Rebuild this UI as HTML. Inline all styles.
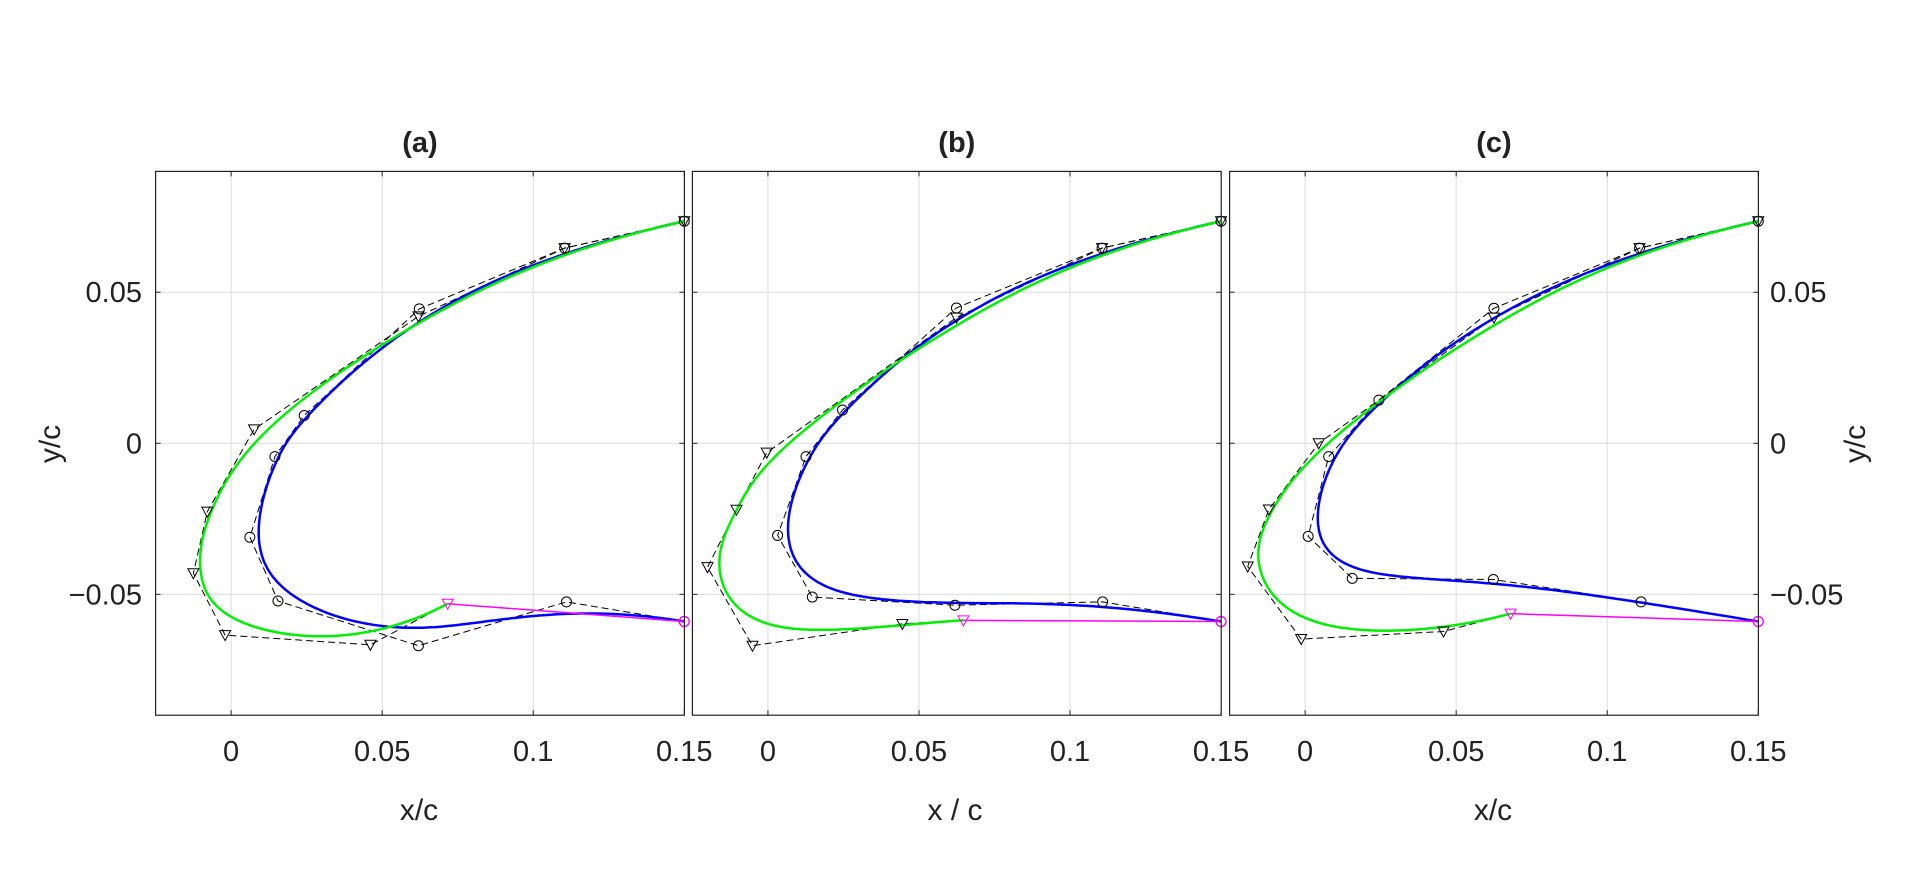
<!DOCTYPE html>
<html><head><meta charset="utf-8"><style>
html,body{margin:0;padding:0;background:#fff;}
svg text{font-family:"Liberation Sans",sans-serif;fill:#222;}
</style></head><body>
<svg id="s" width="1920" height="879" xmlns="http://www.w3.org/2000/svg"></svg>
<script>
const S=document.getElementById('s');let out='';
const panels=[
 {L:155.6,title:'(a)',xl:'x/c',xc:419,
  C:[[0.15,0.0735],[0.1104,0.0646],[0.0623,0.0445],[0.0242,0.0092],[0.0145,-0.0044],[0.0062,-0.0311],[0.0155,-0.0522],[0.062,-0.067],[0.111,-0.0525],[0.15,-0.059]],
  T:[[0.15,0.0735],[0.1104,0.0646],[0.062,0.042],[0.0076,0.0046],[-0.0079,-0.0226],[-0.0125,-0.043],[-0.002,-0.0635],[0.0461,-0.0667],[0.0717,-0.0531]]},
 {L:692.4,title:'(b)',xl:'x / c',xc:955,
  C:[[0.15,0.0735],[0.1106,0.0646],[0.0624,0.0448],[0.0247,0.011],[0.0126,-0.0044],[0.0032,-0.0305],[0.0147,-0.0509],[0.0619,-0.0536],[0.1108,-0.0525],[0.15,-0.059]],
  T:[[0.15,0.0735],[0.1106,0.0646],[0.0624,0.0416],[-0.0004,-0.0031],[-0.0104,-0.022],[-0.02,-0.041],[-0.0051,-0.067],[0.0445,-0.0598],[0.0647,-0.0586]]},
 {L:1229.6,title:'(c)',xl:'x/c',xc:1493,
  C:[[0.15,0.0735],[0.1107,0.0646],[0.0625,0.0447],[0.0244,0.0143],[0.0078,-0.0044],[0.001,-0.0308],[0.0156,-0.0447],[0.0623,-0.0451],[0.1112,-0.0525],[0.15,-0.059]],
  T:[[0.15,0.0735],[0.1107,0.0646],[0.0625,0.0416],[0.0045,0],[-0.012,-0.0219],[-0.019,-0.0408],[-0.0013,-0.0648],[0.0458,-0.0623],[0.068,-0.0564]]}
];
const W=528.8,TOP=171.4,H=543.8,K=3021;
function bspline(P,deg,n){const m=P.length-1;const kn=[];for(let i=0;i<=m+deg+1;i++){kn.push(i<=deg?0:(i>=m+1?1:(i-deg)/(m-deg+1)));}
 const res=[];for(let s=0;s<=n;s++){let t=s/n;if(t>=1)t=1-1e-9;let k=deg;while(k<m&&kn[k+1]<=t)k++;
  const d=[];for(let j=0;j<=deg;j++)d.push(P[j+k-deg].slice());
  for(let r=1;r<=deg;r++)for(let j=deg;j>=r;j--){const i=j+k-deg;const a=(t-kn[i])/(kn[i+deg-r+1]-kn[i]);d[j]=[(1-a)*d[j-1][0]+a*d[j][0],(1-a)*d[j-1][1]+a*d[j][1]];}
  res.push(d[deg]);}return res;}
panels.forEach((p,pi)=>{
 const X=x=>p.L+(x+0.025)*K, Y=y=>TOP+(0.09-y)*K;
 out+=`<g><clipPath id="c${pi}"><rect x="${p.L-6}" y="${TOP}" width="${W+12}" height="${H}"/></clipPath>`;
 [0,0.05,0.1].forEach(v=>out+=`<line x1="${X(v)}" y1="${TOP}" x2="${X(v)}" y2="${TOP+H}" stroke="#dcdcdc" stroke-width="1"/>`);
 [0.05,0,-0.05].forEach(v=>out+=`<line x1="${p.L}" y1="${Y(v)}" x2="${p.L+W}" y2="${Y(v)}" stroke="#dcdcdc" stroke-width="1"/>`);
 [0,0.05,0.1,0.15].forEach(v=>{out+=`<line x1="${X(v)}" y1="${TOP+H}" x2="${X(v)}" y2="${TOP+H-5}" stroke="#222"/><line x1="${X(v)}" y1="${TOP}" x2="${X(v)}" y2="${TOP+5}" stroke="#222"/>`;
  out+=`<text x="${X(v)}" y="761" font-size="29" text-anchor="middle">${v}</text>`;});
 [0.05,0,-0.05].forEach(v=>out+=`<line x1="${p.L}" y1="${Y(v)}" x2="${p.L+5}" y2="${Y(v)}" stroke="#222"/><line x1="${p.L+W}" y1="${Y(v)}" x2="${p.L+W-5}" y2="${Y(v)}" stroke="#222"/>`);
 out+=`<g clip-path="url(#c${pi})">`;
 const pl=(P)=>P.map(q=>X(q[0]).toFixed(1)+','+Y(q[1]).toFixed(1)).join(' ');
 out+=`<polyline points="${pl(p.C)}" fill="none" stroke="#000" stroke-width="1" stroke-dasharray="7,4"/>`;
 out+=`<polyline points="${pl(p.T)}" fill="none" stroke="#000" stroke-width="1" stroke-dasharray="7,4"/>`;
 out+=`<polyline points="${pl(bspline(p.C,3,300))}" fill="none" stroke="#0000ff" stroke-width="2.5"/>`;
 out+=`<polyline points="${pl(bspline(p.T,3,300))}" fill="none" stroke="#00ee00" stroke-width="2.5"/>`;
 const e=p.T[p.T.length-1];
 out+=`<line x1="${X(e[0])}" y1="${Y(e[1])}" x2="${X(0.15)}" y2="${Y(-0.059)}" stroke="#ff00ff" stroke-width="1.5"/>`;
 p.C.forEach(q=>out+=`<circle cx="${X(q[0])}" cy="${Y(q[1])}" r="5" fill="none" stroke="#000" stroke-width="1"/>`);
 p.T.forEach((q,i)=>{const x=X(q[0]),y=Y(q[1]);const c=i==p.T.length-1?'#ff00ff':'#000';out+=`<polygon points="${x-5.5},${y-4.5} ${x+5.5},${y-4.5} ${x},${y+5.5}" fill="none" stroke="${c}" stroke-width="1"/>`;});
 out+=`<circle cx="${X(0.15)}" cy="${Y(-0.059)}" r="5" fill="none" stroke="#ff00ff" stroke-width="1.2"/>`;
 out+=`</g><rect x="${p.L}" y="${TOP}" width="${W}" height="${H}" fill="none" stroke="#222" stroke-width="1.2"/></g>`;
 out+=`<text x="${p.L+W/2}" y="152" font-size="29" font-weight="bold" text-anchor="middle">${p.title}</text>`;
 out+=`<text x="${p.xc}" y="820" font-size="30" text-anchor="middle">${p.xl}</text>`;
});
const Yv=y=>TOP+(0.09-y)*K;
[[0.05,'0.05'],[0,'0'],[-0.05,'−0.05']].forEach(([v,s])=>{
 out+=`<text x="142" y="${Yv(v)+10}" font-size="29" text-anchor="end">${s}</text>`;
 out+=`<text x="1770" y="${Yv(v)+10}" font-size="29">${s}</text>`;});
out+=`<text transform="translate(60,444) rotate(-90)" font-size="30" text-anchor="middle">y/c</text>`;
out+=`<text transform="translate(1865,444) rotate(-90)" font-size="30" text-anchor="middle">y/c</text>`;
S.innerHTML=out;
</script>
</body></html>
